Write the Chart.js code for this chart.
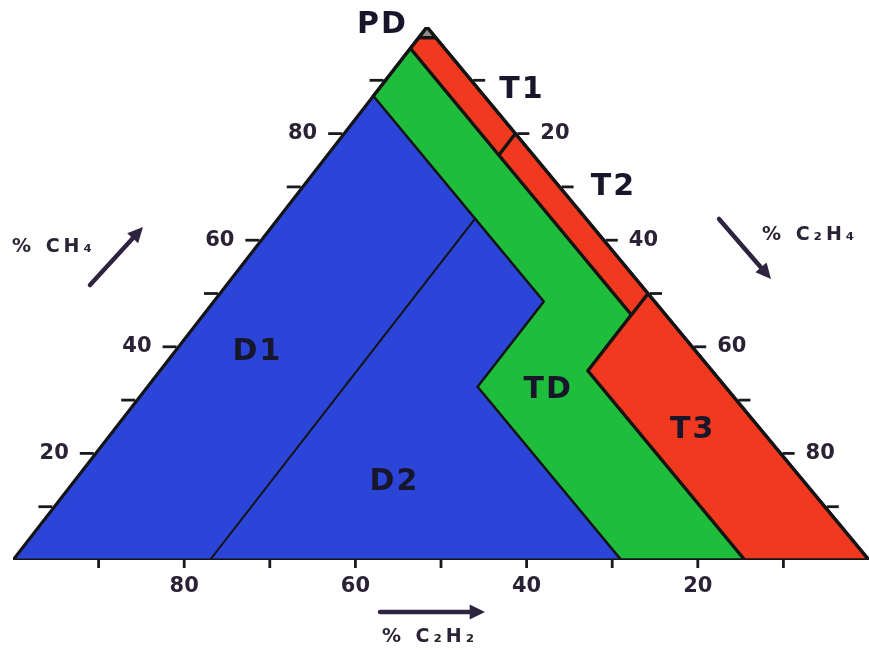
<!DOCTYPE html>
<html>
<head>
<meta charset="utf-8">
<script src="https://cdn.jsdelivr.net/npm/chart.js"></script>
<style>
  body { margin: 0; background: #fff; }
  #wrap { width: 869px; height: 650px; position: relative; }
</style>
</head>
<body>
<div id="wrap"><canvas id="duval"></canvas></div>
<script>
// Duval triangle zones, vertices as [CH4 %, C2H4 %] (C2H2 = 100 - both)
const zonePD = [[100, 0], [98, 0], [98, 2]];
const zoneT1 = [[98, 0], [96, 0], [76, 20], [80, 20], [98, 2]];
const zoneT2 = [[80, 20], [76, 20], [46, 50], [50, 50]];
const zoneT3 = [[50, 50], [35.5, 50], [0, 85.5], [0, 100]];
const zoneD1 = [[87, 0], [0, 0], [0, 23], [64, 23]];
const zoneD2 = [[64, 23], [0, 23], [0, 71], [32.5, 38.5], [48.5, 38.5]];
const zoneTD = [[96, 0], [87, 0], [48.5, 38.5], [32.5, 38.5], [0, 71], [0, 85.5], [35.5, 50], [46, 50]];
const outline = [[100, 0], [0, 0], [0, 100]];

const zoneNames  = ['PD', 'T1', 'T2', 'T3', 'D1', 'D2', 'TD'];
const zoneColors = ['#8c8c8c', '#f0391f', '#f0391f', '#f0391f', '#2b45d8', '#2b45d8', '#1fbd3c'];
// where each zone name is written, [CH4, C2H4]
const labelPos = [[100.4, -5.4], [88.2, 16.8], [70, 36.3], [24.4, 67.6], [39, 9.7], [14.6, 37.5], [31.9, 47.1]];

const tickSteps  = [10, 20, 30, 40, 50, 60, 70, 80, 90];
const tickLabels = [20, 40, 60, 80];

const K = 0.4836; // horizontal shift of the apex in the scanned picture
function toXY(p) { return { x: p[1] + K * p[0], y: p[0] }; }
function ring(poly) { return poly.concat([poly[0]]).map(toXY); }

const zones = [zonePD, zoneT1, zoneT2, zoneT3, zoneD1, zoneD2, zoneTD];

const ink = '#2a2235';

const overlay = {
  id: 'overlay',
  afterDatasetsDraw(chart) {
    const ctx = chart.ctx;
    const sx = chart.scales.x, sy = chart.scales.y;
    const px = p => { const q = toXY(p); return [sx.getPixelForValue(q.x), sy.getPixelForValue(q.y)]; };
    ctx.save();
    ctx.strokeStyle = '#1c1820';
    ctx.fillStyle = ink;
    ctx.lineWidth = 2.8;

    // ticks on the three edges
    tickSteps.forEach(v => {
      // left edge: CH4 = v, C2H4 = 0
      let [x, y] = px([v, 0]);
      ctx.beginPath(); ctx.moveTo(x - 2, y); ctx.lineTo(x - 16, y); ctx.stroke();
      // right edge: C2H4 = v, C2H2 = 0
      [x, y] = px([100 - v, v]);
      ctx.beginPath(); ctx.moveTo(x + 2, y); ctx.lineTo(x + 14, y); ctx.stroke();
      // bottom edge: C2H2 = v, CH4 = 0
      [x, y] = px([0, 100 - v]);
      ctx.beginPath(); ctx.moveTo(x, y); ctx.lineTo(x, y + 8); ctx.stroke();
    });

    ctx.font = 'bold 21px "DejaVu Sans"';
    ctx.letterSpacing = '0px';
    ctx.textBaseline = 'middle';
    tickLabels.forEach(v => {
      let [x, y] = px([v, 0]);
      ctx.textAlign = 'right';
      ctx.fillText(String(v), x - 27, y);
      [x, y] = px([100 - v, v]);
      ctx.textAlign = 'left';
      ctx.fillText(String(v), x + 25, y);
      [x, y] = px([0, 100 - v]);
      ctx.textAlign = 'center';
      ctx.fillText(String(v), x, y + 27);
    });

    // zone names
    ctx.font = 'bold 30px "DejaVu Sans"';
    ctx.letterSpacing = '2px';
    ctx.textAlign = 'center';
    ctx.fillStyle = '#17162a';
    zoneNames.forEach((n, i) => {
      const [x, y] = px(labelPos[i]);
      ctx.fillText(n, x, y);
    });

    // axis titles and arrows
    ctx.fillStyle = ink;
    ctx.font = 'bold 19px "DejaVu Sans"';
    ctx.letterSpacing = '4px';
    ctx.textAlign = 'left';
    ctx.fillText('% CH₄', 12, 247);
    ctx.fillText('% C₂H₄', 762, 235);
    ctx.textAlign = 'center';
    ctx.fillText('% C₂H₂', 430, 637);

    function arrow(x1, y1, x2, y2) {
      ctx.strokeStyle = '#2e2440';
      ctx.fillStyle = '#2e2440';
      ctx.lineWidth = 4.5;
      ctx.lineCap = 'round';
      const a = Math.atan2(y2 - y1, x2 - x1);
      ctx.beginPath(); ctx.moveTo(x1, y1);
      ctx.lineTo(x2 - 8 * Math.cos(a), y2 - 8 * Math.sin(a)); ctx.stroke();
      ctx.beginPath();
      ctx.moveTo(x2, y2);
      ctx.lineTo(x2 - 17 * Math.cos(a - 0.45), y2 - 17 * Math.sin(a - 0.45));
      ctx.lineTo(x2 - 17 * Math.cos(a + 0.45), y2 - 17 * Math.sin(a + 0.45));
      ctx.closePath(); ctx.fill();
    }
    arrow(90, 285, 143, 227);
    arrow(719, 219, 771, 279);
    arrow(380, 612, 485, 612);
    ctx.restore();
  }
};

const datasets = zones.map((z, i) => ({
  label: zoneNames[i],
  data: ring(z),
  showLine: true,
  fill: 'shape',
  backgroundColor: zoneColors[i],
  borderColor: '#141414',
  borderWidth: (zoneNames[i] === 'D1' || zoneNames[i] === 'D2') ? 1.8 : 3.2,
  borderJoinStyle: 'round',
  pointRadius: 0,
  pointHoverRadius: 0,
  tension: 0
}));
// outer edge of the triangle, drawn on top
datasets.unshift({
  label: 'outline',
  data: ring(outline),
  showLine: true,
  fill: false,
  borderColor: '#141414',
  borderWidth: 3.2,
  borderJoinStyle: 'round',
  pointRadius: 0,
  pointHoverRadius: 0
});

new Chart(document.getElementById('duval'), {
  type: 'scatter',
  data: { datasets },
  options: {
    responsive: true,
    maintainAspectRatio: false,
    animation: false,
    events: [],
    layout: { padding: { left: 13, right: 0, top: 27, bottom: 90 } },
    scales: {
      x: { type: 'linear', min: 0, max: 100, display: false },
      y: { type: 'linear', min: 0, max: 100, display: false }
    },
    plugins: { legend: { display: false }, tooltip: { enabled: false } }
  },
  plugins: [overlay]
});
</script>
</body>
</html>
